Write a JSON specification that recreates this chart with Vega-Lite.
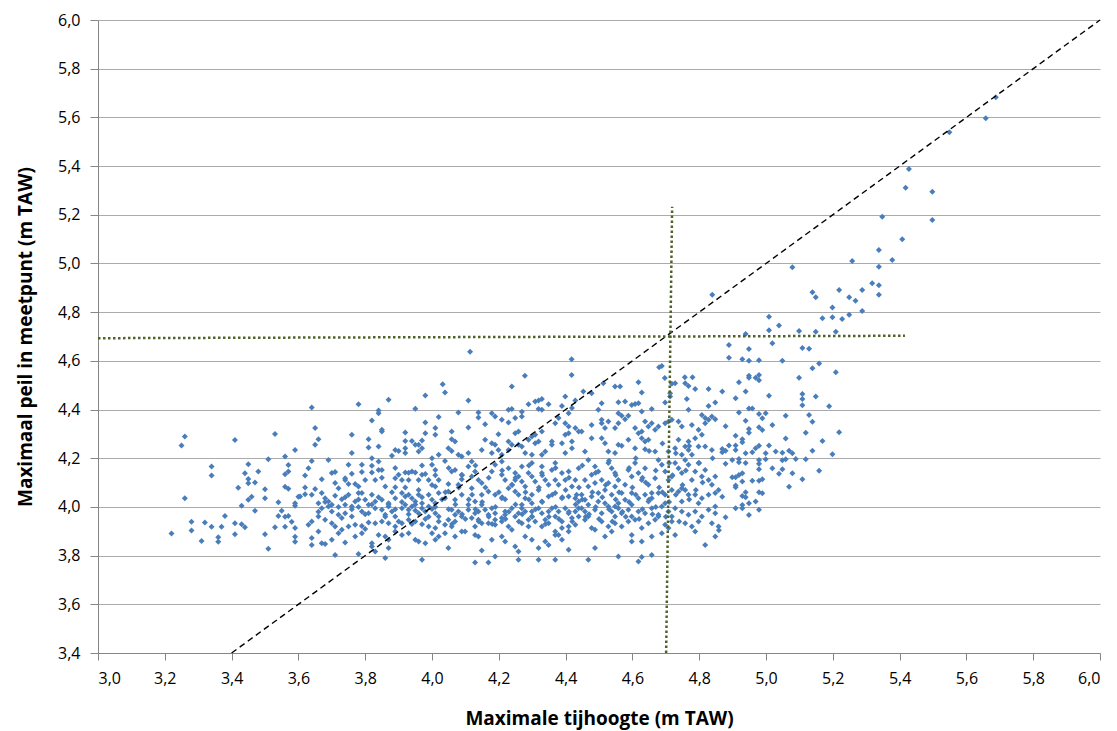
{
"$schema": "https://vega.github.io/schema/vega-lite/v6.json",
"width": 1002, "height": 633,
"autosize": {"type": "none"},
"padding": {"left": 98, "top": 20, "right": 17, "bottom": 78},
"background": "white",
"config": {"view": {"stroke": null}, "font": "Open Sans"},
"datasets": {
"diag": [{"x": 3.4, "y": 3.4}, {"x": 6.0, "y": 6.0}],
"guide": [{"line": "h", "x": 3.0, "y": 4.693}, {"line": "h", "x": 5.416, "y": 4.703}, {"line": "v", "x": 4.701, "y": 3.4}, {"line": "v", "x": 4.719, "y": 5.233}],
"pts": [
{"x":3.260,"y":4.289},{"x":3.250,"y":4.252},{"x":3.410,"y":4.275},{"x":3.530,"y":4.300},{"x":3.590,"y":4.234},{"x":3.560,"y":4.207},{"x":3.570,"y":4.172},{"x":3.560,"y":4.134},{"x":3.570,"y":4.145},{"x":3.510,"y":4.196},{"x":3.450,"y":4.175},{"x":3.440,"y":4.138},{"x":3.450,"y":4.115},{"x":3.450,"y":4.097},{"x":3.480,"y":4.145},{"x":3.340,"y":4.166},{"x":3.340,"y":4.129},{"x":3.420,"y":4.079},{"x":3.470,"y":4.100},{"x":3.500,"y":4.073},{"x":3.500,"y":4.036},{"x":3.560,"y":4.083},{"x":3.570,"y":4.075},{"x":3.460,"y":4.042},{"x":3.450,"y":4.029},{"x":3.260,"y":4.036},{"x":3.430,"y":4.005},{"x":3.540,"y":4.019},{"x":3.600,"y":4.042},{"x":3.590,"y":4.015},{"x":3.590,"y":4.005},{"x":3.380,"y":3.963},{"x":3.470,"y":3.984},{"x":3.280,"y":3.939},{"x":3.280,"y":3.903},{"x":3.320,"y":3.936},{"x":3.340,"y":3.919},{"x":3.370,"y":3.919},{"x":3.410,"y":3.933},{"x":3.430,"y":3.929},{"x":3.440,"y":3.917},{"x":3.550,"y":3.984},{"x":3.540,"y":3.963},{"x":3.560,"y":3.960},{"x":3.570,"y":3.963},{"x":3.580,"y":3.939},{"x":3.590,"y":3.913},{"x":3.560,"y":3.919},{"x":3.530,"y":3.917},{"x":3.220,"y":3.891},{"x":3.310,"y":3.860},{"x":3.360,"y":3.875},{"x":3.360,"y":3.857},{"x":3.410,"y":3.888},{"x":3.500,"y":3.888},{"x":3.510,"y":3.828},{"x":3.590,"y":3.878},{"x":3.590,"y":3.857},
{"x":3.640,"y":4.408},{"x":3.780,"y":4.422},{"x":3.870,"y":4.440},{"x":3.980,"y":4.458},{"x":3.950,"y":4.403},{"x":3.840,"y":4.396},{"x":3.840,"y":4.385},{"x":3.650,"y":4.324},{"x":3.660,"y":4.278},{"x":3.650,"y":4.255},{"x":3.820,"y":4.355},{"x":3.850,"y":4.317},{"x":3.850,"y":4.310},{"x":3.760,"y":4.296},{"x":3.810,"y":4.278},{"x":3.810,"y":4.244},{"x":3.840,"y":4.248},{"x":3.760,"y":4.221},{"x":3.920,"y":4.306},{"x":3.920,"y":4.271},{"x":3.920,"y":4.241},{"x":3.920,"y":4.221},{"x":3.940,"y":4.271},{"x":3.950,"y":4.255},{"x":3.960,"y":4.255},{"x":3.970,"y":4.273},{"x":3.980,"y":4.303},{"x":3.980,"y":4.347},{"x":4.010,"y":4.324},{"x":4.010,"y":4.296},{"x":4.020,"y":4.369},{"x":3.960,"y":4.228},{"x":3.970,"y":4.241},{"x":3.880,"y":4.210},{"x":3.890,"y":4.234},{"x":3.900,"y":4.230},{"x":3.820,"y":4.200},{"x":4.000,"y":4.200},{"x":4.020,"y":4.214},{"x":3.690,"y":4.193},{"x":3.630,"y":4.159},{"x":3.620,"y":4.129},{"x":3.640,"y":4.189},{"x":3.670,"y":4.114},{"x":3.620,"y":4.080},{"x":3.650,"y":4.074},{"x":3.620,"y":4.052},{"x":3.640,"y":4.050},{"x":3.700,"y":4.139},{"x":3.710,"y":4.143},{"x":3.710,"y":4.098},{"x":3.720,"y":4.077},{"x":3.740,"y":4.118},{"x":3.750,"y":4.173},{"x":3.760,"y":4.136},{"x":3.740,"y":4.111},{"x":3.750,"y":4.094},{"x":3.770,"y":4.094},{"x":3.780,"y":4.084},{"x":3.780,"y":4.057},{"x":3.790,"y":4.173},{"x":3.790,"y":4.143},{"x":3.800,"y":4.111},{"x":3.820,"y":4.169},{"x":3.820,"y":4.141},{"x":3.830,"y":4.111},{"x":3.840,"y":4.187},{"x":3.840,"y":4.152},{"x":3.850,"y":4.152},{"x":3.860,"y":4.084},{"x":3.890,"y":4.118},{"x":3.890,"y":4.081},{"x":3.900,"y":4.132},{"x":3.910,"y":4.111},{"x":3.920,"y":4.141},{"x":3.930,"y":4.111},{"x":3.940,"y":4.146},{"x":3.950,"y":4.141},{"x":3.960,"y":4.111},{"x":3.970,"y":4.132},{"x":3.980,"y":4.135},{"x":3.990,"y":4.111},{"x":4.000,"y":4.173},{"x":4.010,"y":4.152},{"x":4.010,"y":4.084},{"x":4.020,"y":4.111},{"x":4.020,"y":4.057},{"x":3.910,"y":4.057},{"x":3.920,"y":4.043},{"x":3.930,"y":4.050},{"x":3.940,"y":4.036},{"x":3.950,"y":4.022},{"x":3.960,"y":4.050},{"x":3.970,"y":4.015},{"x":3.990,"y":4.050},{"x":4.000,"y":4.029},{"x":4.010,"y":4.015},{"x":3.670,"y":4.057},{"x":3.680,"y":4.036},{"x":3.690,"y":4.022},{"x":3.710,"y":4.046},{"x":3.730,"y":4.032},{"x":3.750,"y":4.050},{"x":3.770,"y":4.022},{"x":3.790,"y":4.057},{"x":3.800,"y":4.029},{"x":3.820,"y":4.050},{"x":3.830,"y":4.022},{"x":3.850,"y":4.029},{"x":3.870,"y":4.015},{"x":3.890,"y":4.036},{"x":3.760,"y":4.002},{"x":3.780,"y":4.000},{"x":3.810,"y":4.009},{"x":3.740,"y":4.009},{"x":3.700,"y":4.009},{"x":3.660,"y":4.015},{"x":3.605,"y":4.043},{"x":3.670,"y":3.995},{"x":3.690,"y":4.002},{"x":3.700,"y":3.981},{"x":3.720,"y":3.968},{"x":3.730,"y":3.954},{"x":3.740,"y":3.974},{"x":3.760,"y":3.961},{"x":3.790,"y":3.981},{"x":3.810,"y":3.974},{"x":3.830,"y":3.995},{"x":3.850,"y":3.988},{"x":3.860,"y":3.968},{"x":3.870,"y":4.002},{"x":3.880,"y":3.981},{"x":3.890,"y":3.961},{"x":3.910,"y":3.995},{"x":3.920,"y":4.009},{"x":3.930,"y":3.988},{"x":3.940,"y":4.002},{"x":3.950,"y":3.985},{"x":3.960,"y":3.974},{"x":3.970,"y":3.995},{"x":3.980,"y":3.981},{"x":3.990,"y":4.002},{"x":4.000,"y":3.991},{"x":4.010,"y":3.974},{"x":4.020,"y":3.961},{"x":3.630,"y":3.927},{"x":3.640,"y":3.940},{"x":3.660,"y":3.961},{"x":3.680,"y":3.947},{"x":3.700,"y":3.933},{"x":3.710,"y":3.920},{"x":3.750,"y":3.920},{"x":3.730,"y":3.906},{"x":3.770,"y":3.927},{"x":3.790,"y":3.922},{"x":3.810,"y":3.936},{"x":3.830,"y":3.933},{"x":3.850,"y":3.940},{"x":3.870,"y":3.933},{"x":3.890,"y":3.920},{"x":3.910,"y":3.933},{"x":3.930,"y":3.947},{"x":3.950,"y":3.940},{"x":3.970,"y":3.929},{"x":3.990,"y":3.920},{"x":4.010,"y":3.913},{"x":3.640,"y":3.872},{"x":3.660,"y":3.899},{"x":3.670,"y":3.851},{"x":3.680,"y":3.848},{"x":3.700,"y":3.865},{"x":3.720,"y":3.892},{"x":3.740,"y":3.854},{"x":3.770,"y":3.879},{"x":3.790,"y":3.892},{"x":3.800,"y":3.909},{"x":3.820,"y":3.851},{"x":3.820,"y":3.837},{"x":3.840,"y":3.885},{"x":3.860,"y":3.879},{"x":3.870,"y":3.865},{"x":3.890,"y":3.899},{"x":3.910,"y":3.885},{"x":3.930,"y":3.892},{"x":3.950,"y":3.865},{"x":3.960,"y":3.858},{"x":3.980,"y":3.851},{"x":4.000,"y":3.892},{"x":4.020,"y":3.879},{"x":3.640,"y":3.844},{"x":3.710,"y":3.803},{"x":3.780,"y":3.807},{"x":3.830,"y":3.817},{"x":3.870,"y":3.831},{"x":3.970,"y":3.783},{"x":3.860,"y":3.790},{"x":4.010,"y":3.865},
{"x":4.239,"y":4.495},{"x":4.039,"y":4.470},{"x":4.109,"y":4.437},{"x":4.079,"y":4.388},{"x":4.139,"y":4.388},{"x":4.179,"y":4.385},{"x":4.189,"y":4.371},{"x":4.229,"y":4.399},{"x":4.239,"y":4.402},{"x":4.269,"y":4.391},{"x":4.289,"y":4.422},{"x":4.309,"y":4.433},{"x":4.319,"y":4.437},{"x":4.329,"y":4.443},{"x":4.349,"y":4.422},{"x":4.319,"y":4.402},{"x":4.329,"y":4.399},{"x":4.399,"y":4.454},{"x":4.389,"y":4.415},{"x":4.429,"y":4.437},{"x":4.139,"y":4.367},{"x":4.159,"y":4.340},{"x":4.209,"y":4.358},{"x":4.229,"y":4.347},{"x":4.249,"y":4.365},{"x":4.269,"y":4.371},{"x":4.109,"y":4.326},{"x":4.059,"y":4.310},{"x":4.059,"y":4.278},{"x":4.069,"y":4.269},{"x":4.049,"y":4.241},{"x":4.059,"y":4.230},{"x":4.079,"y":4.214},{"x":4.089,"y":4.207},{"x":4.159,"y":4.276},{"x":4.199,"y":4.299},{"x":4.179,"y":4.262},{"x":4.189,"y":4.255},{"x":4.229,"y":4.269},{"x":4.239,"y":4.255},{"x":4.249,"y":4.303},{"x":4.259,"y":4.310},{"x":4.259,"y":4.255},{"x":4.269,"y":4.248},{"x":4.279,"y":4.221},{"x":4.289,"y":4.276},{"x":4.299,"y":4.289},{"x":4.309,"y":4.296},{"x":4.309,"y":4.262},{"x":4.319,"y":4.269},{"x":4.329,"y":4.310},{"x":4.339,"y":4.228},{"x":4.359,"y":4.269},{"x":4.359,"y":4.255},{"x":4.369,"y":4.344},{"x":4.379,"y":4.365},{"x":4.399,"y":4.344},{"x":4.409,"y":4.330},{"x":4.409,"y":4.303},{"x":4.399,"y":4.296},{"x":4.419,"y":4.269},{"x":4.429,"y":4.324},{"x":4.439,"y":4.310},{"x":4.389,"y":4.262},{"x":4.399,"y":4.221},{"x":4.419,"y":4.241},{"x":4.329,"y":4.214},{"x":4.299,"y":4.214},{"x":4.229,"y":4.234},{"x":4.209,"y":4.214},{"x":4.199,"y":4.234},{"x":4.179,"y":4.221},{"x":4.149,"y":4.234},{"x":4.109,"y":4.221},{"x":4.409,"y":4.385},{"x":4.419,"y":4.406},{"x":4.039,"y":4.189},{"x":4.069,"y":4.152},{"x":4.059,"y":4.146},{"x":4.089,"y":4.132},{"x":4.089,"y":4.114},{"x":4.119,"y":4.187},{"x":4.109,"y":4.166},{"x":4.079,"y":4.091},{"x":4.089,"y":4.050},{"x":4.049,"y":4.094},{"x":4.049,"y":4.063},{"x":4.039,"y":4.036},{"x":4.069,"y":4.029},{"x":4.119,"y":4.125},{"x":4.129,"y":4.146},{"x":4.119,"y":4.077},{"x":4.139,"y":4.111},{"x":4.149,"y":4.098},{"x":4.169,"y":4.063},{"x":4.149,"y":4.050},{"x":4.129,"y":4.022},{"x":4.179,"y":4.146},{"x":4.189,"y":4.173},{"x":4.209,"y":4.187},{"x":4.209,"y":4.132},{"x":4.219,"y":4.111},{"x":4.229,"y":4.159},{"x":4.249,"y":4.139},{"x":4.249,"y":4.111},{"x":4.239,"y":4.091},{"x":4.229,"y":4.077},{"x":4.259,"y":4.125},{"x":4.269,"y":4.166},{"x":4.269,"y":4.104},{"x":4.279,"y":4.084},{"x":4.289,"y":4.139},{"x":4.299,"y":4.180},{"x":4.299,"y":4.125},{"x":4.309,"y":4.104},{"x":4.319,"y":4.070},{"x":4.329,"y":4.166},{"x":4.329,"y":4.139},{"x":4.339,"y":4.111},{"x":4.349,"y":4.091},{"x":4.359,"y":4.152},{"x":4.369,"y":4.180},{"x":4.369,"y":4.111},{"x":4.379,"y":4.091},{"x":4.389,"y":4.139},{"x":4.399,"y":4.111},{"x":4.409,"y":4.146},{"x":4.419,"y":4.084},{"x":4.429,"y":4.111},{"x":4.439,"y":4.159},{"x":4.189,"y":4.050},{"x":4.209,"y":4.036},{"x":4.219,"y":4.032},{"x":4.249,"y":4.063},{"x":4.259,"y":4.050},{"x":4.279,"y":4.036},{"x":4.299,"y":4.050},{"x":4.329,"y":4.022},{"x":4.349,"y":4.043},{"x":4.369,"y":4.057},{"x":4.389,"y":4.036},{"x":4.409,"y":4.043},{"x":4.429,"y":4.036},{"x":4.433,"y":4.050},{"x":4.439,"y":4.022},{"x":4.299,"y":4.015},{"x":4.269,"y":4.009},{"x":4.109,"y":4.009},{"x":4.149,"y":4.009},
{"x":4.059,"y":3.988},{"x":4.069,"y":3.968},{"x":4.079,"y":3.981},{"x":4.049,"y":3.947},{"x":4.039,"y":3.927},{"x":4.069,"y":3.940},{"x":4.089,"y":3.961},{"x":4.109,"y":3.988},{"x":4.119,"y":3.954},{"x":4.129,"y":3.974},{"x":4.139,"y":3.981},{"x":4.139,"y":3.947},{"x":4.159,"y":3.988},{"x":4.169,"y":3.968},{"x":4.179,"y":3.995},{"x":4.189,"y":3.974},{"x":4.189,"y":3.947},{"x":4.209,"y":3.954},{"x":4.219,"y":3.981},{"x":4.219,"y":3.968},{"x":4.239,"y":3.995},{"x":4.249,"y":3.961},{"x":4.259,"y":3.974},{"x":4.269,"y":3.995},{"x":4.279,"y":3.981},{"x":4.289,"y":3.947},{"x":4.299,"y":3.981},{"x":4.299,"y":3.961},{"x":4.319,"y":3.995},{"x":4.329,"y":3.974},{"x":4.339,"y":3.947},{"x":4.349,"y":3.981},{"x":4.359,"y":3.995},{"x":4.369,"y":3.961},{"x":4.379,"y":3.981},{"x":4.389,"y":3.940},{"x":4.399,"y":3.995},{"x":4.409,"y":3.974},{"x":4.419,"y":3.954},{"x":4.429,"y":3.981},{"x":4.439,"y":3.995},{"x":4.439,"y":3.961},{"x":4.059,"y":3.920},{"x":4.089,"y":3.899},{"x":4.099,"y":3.899},{"x":4.129,"y":3.920},{"x":4.149,"y":3.933},{"x":4.169,"y":3.933},{"x":4.189,"y":3.927},{"x":4.209,"y":3.940},{"x":4.229,"y":3.920},{"x":4.239,"y":3.906},{"x":4.269,"y":3.933},{"x":4.289,"y":3.920},{"x":4.309,"y":3.940},{"x":4.329,"y":3.920},{"x":4.349,"y":3.933},{"x":4.369,"y":3.899},{"x":4.389,"y":3.913},{"x":4.409,"y":3.920},{"x":4.429,"y":3.927},{"x":4.039,"y":3.892},{"x":4.049,"y":3.831},{"x":4.069,"y":3.879},{"x":4.129,"y":3.885},{"x":4.139,"y":3.879},{"x":4.179,"y":3.865},{"x":4.209,"y":3.879},{"x":4.219,"y":3.858},{"x":4.249,"y":3.837},{"x":4.259,"y":3.817},{"x":4.279,"y":3.879},{"x":4.299,"y":3.865},{"x":4.319,"y":3.831},{"x":4.339,"y":3.858},{"x":4.349,"y":3.844},{"x":4.369,"y":3.885},{"x":4.389,"y":3.865},{"x":4.409,"y":3.824},{"x":4.379,"y":3.885},{"x":4.129,"y":3.772},{"x":4.169,"y":3.772},{"x":4.189,"y":3.796},{"x":4.149,"y":3.821},{"x":4.259,"y":3.783},{"x":4.319,"y":3.783},{"x":4.369,"y":3.783},{"x":4.409,"y":3.899},
{"x":4.513,"y":4.508},{"x":4.478,"y":4.467},{"x":4.453,"y":4.474},{"x":4.548,"y":4.495},{"x":4.563,"y":4.495},{"x":4.618,"y":4.512},{"x":4.628,"y":4.470},{"x":4.718,"y":4.506},{"x":4.728,"y":4.508},{"x":4.758,"y":4.508},{"x":4.768,"y":4.497},{"x":4.788,"y":4.484},{"x":4.828,"y":4.484},{"x":4.848,"y":4.429},{"x":4.828,"y":4.415},{"x":4.763,"y":4.443},{"x":4.508,"y":4.426},{"x":4.558,"y":4.430},{"x":4.578,"y":4.433},{"x":4.598,"y":4.419},{"x":4.608,"y":4.423},{"x":4.618,"y":4.426},{"x":4.628,"y":4.392},{"x":4.658,"y":4.402},{"x":4.698,"y":4.429},{"x":4.713,"y":4.454},{"x":4.713,"y":4.467},{"x":4.498,"y":4.399},{"x":4.508,"y":4.358},{"x":4.508,"y":4.344},{"x":4.528,"y":4.351},{"x":4.548,"y":4.324},{"x":4.558,"y":4.385},{"x":4.568,"y":4.374},{"x":4.578,"y":4.360},{"x":4.588,"y":4.374},{"x":4.558,"y":4.344},{"x":4.518,"y":4.324},{"x":4.478,"y":4.337},{"x":4.448,"y":4.310},{"x":4.478,"y":4.282},{"x":4.508,"y":4.282},{"x":4.518,"y":4.262},{"x":4.588,"y":4.276},{"x":4.608,"y":4.324},{"x":4.618,"y":4.303},{"x":4.628,"y":4.310},{"x":4.638,"y":4.351},{"x":4.648,"y":4.330},{"x":4.658,"y":4.344},{"x":4.668,"y":4.317},{"x":4.678,"y":4.330},{"x":4.628,"y":4.282},{"x":4.638,"y":4.269},{"x":4.648,"y":4.276},{"x":4.698,"y":4.344},{"x":4.708,"y":4.351},{"x":4.718,"y":4.358},{"x":4.738,"y":4.351},{"x":4.748,"y":4.330},{"x":4.768,"y":4.399},{"x":4.778,"y":4.337},{"x":4.808,"y":4.378},{"x":4.818,"y":4.365},{"x":4.818,"y":4.344},{"x":4.828,"y":4.358},{"x":4.838,"y":4.371},{"x":4.848,"y":4.360},{"x":4.798,"y":4.317},{"x":4.808,"y":4.296},{"x":4.788,"y":4.282},{"x":4.768,"y":4.269},{"x":4.738,"y":4.276},{"x":4.798,"y":4.248},{"x":4.768,"y":4.234},{"x":4.818,"y":4.248},{"x":4.838,"y":4.234},{"x":4.458,"y":4.228},{"x":4.528,"y":4.228},{"x":4.548,"y":4.221},{"x":4.608,"y":4.241},{"x":4.638,"y":4.237},{"x":4.668,"y":4.228},{"x":4.708,"y":4.228},{"x":4.728,"y":4.241},{"x":4.748,"y":4.214},{"x":4.778,"y":4.214},{"x":4.758,"y":4.248},{"x":4.558,"y":4.255},{"x":4.568,"y":4.251},
{"x":4.468,"y":4.193},{"x":4.488,"y":4.166},{"x":4.498,"y":4.146},{"x":4.478,"y":4.132},{"x":4.458,"y":4.111},{"x":4.468,"y":4.084},{"x":4.488,"y":4.098},{"x":4.498,"y":4.057},{"x":4.448,"y":4.050},{"x":4.458,"y":4.029},{"x":4.478,"y":4.043},{"x":4.508,"y":4.111},{"x":4.518,"y":4.070},{"x":4.528,"y":4.180},{"x":4.538,"y":4.159},{"x":4.548,"y":4.139},{"x":4.528,"y":4.098},{"x":4.548,"y":4.084},{"x":4.558,"y":4.111},{"x":4.568,"y":4.057},{"x":4.578,"y":4.091},{"x":4.588,"y":4.152},{"x":4.598,"y":4.125},{"x":4.608,"y":4.180},{"x":4.618,"y":4.139},{"x":4.628,"y":4.111},{"x":4.638,"y":4.159},{"x":4.648,"y":4.091},{"x":4.658,"y":4.057},{"x":4.668,"y":4.118},{"x":4.678,"y":4.193},{"x":4.688,"y":4.173},{"x":4.698,"y":4.146},{"x":4.708,"y":4.111},{"x":4.718,"y":4.125},{"x":4.728,"y":4.180},{"x":4.738,"y":4.159},{"x":4.748,"y":4.139},{"x":4.758,"y":4.193},{"x":4.768,"y":4.173},{"x":4.778,"y":4.111},{"x":4.788,"y":4.146},{"x":4.798,"y":4.180},{"x":4.808,"y":4.125},{"x":4.818,"y":4.152},{"x":4.828,"y":4.111},{"x":4.838,"y":4.091},{"x":4.848,"y":4.125},{"x":4.858,"y":4.070},{"x":4.848,"y":4.057},{"x":4.828,"y":4.050},{"x":4.808,"y":4.036},{"x":4.788,"y":4.050},{"x":4.768,"y":4.050},{"x":4.758,"y":4.070},{"x":4.748,"y":4.077},{"x":4.738,"y":4.063},{"x":4.718,"y":4.070},{"x":4.698,"y":4.050},{"x":4.678,"y":4.057},{"x":4.658,"y":4.036},{"x":4.638,"y":4.050},{"x":4.618,"y":4.036},{"x":4.598,"y":4.057},{"x":4.578,"y":4.029},{"x":4.558,"y":4.015},{"x":4.538,"y":4.050},{"x":4.518,"y":4.015},{"x":4.498,"y":4.022},{"x":4.468,"y":4.009},{"x":4.548,"y":4.002},{"x":4.598,"y":4.009},{"x":4.648,"y":4.022},{"x":4.698,"y":4.015},{"x":4.748,"y":4.022},{"x":4.798,"y":4.015},{"x":4.848,"y":4.002},
{"x":4.448,"y":3.995},{"x":4.458,"y":3.981},{"x":4.468,"y":3.961},{"x":4.488,"y":3.988},{"x":4.508,"y":3.974},{"x":4.528,"y":4.002},{"x":4.538,"y":3.981},{"x":4.548,"y":3.961},{"x":4.558,"y":3.995},{"x":4.568,"y":3.974},{"x":4.588,"y":3.988},{"x":4.598,"y":3.961},{"x":4.618,"y":3.981},{"x":4.638,"y":3.974},{"x":4.658,"y":3.995},{"x":4.678,"y":3.961},{"x":4.688,"y":4.002},{"x":4.708,"y":3.981},{"x":4.718,"y":3.961},{"x":4.728,"y":3.995},{"x":4.748,"y":3.981},{"x":4.768,"y":3.968},{"x":4.788,"y":3.981},{"x":4.808,"y":3.961},{"x":4.828,"y":3.988},{"x":4.848,"y":3.974},{"x":4.458,"y":3.947},{"x":4.478,"y":3.913},{"x":4.488,"y":3.906},{"x":4.508,"y":3.940},{"x":4.528,"y":3.920},{"x":4.548,"y":3.933},{"x":4.568,"y":3.920},{"x":4.588,"y":3.940},{"x":4.608,"y":3.947},{"x":4.628,"y":3.913},{"x":4.648,"y":3.933},{"x":4.668,"y":3.947},{"x":4.688,"y":3.892},{"x":4.718,"y":3.940},{"x":4.728,"y":3.885},{"x":4.758,"y":3.933},{"x":4.778,"y":3.920},{"x":4.798,"y":3.940},{"x":4.838,"y":3.933},{"x":4.858,"y":3.920},{"x":4.518,"y":3.879},{"x":4.538,"y":3.899},{"x":4.598,"y":3.885},{"x":4.628,"y":3.858},{"x":4.658,"y":3.879},{"x":4.678,"y":3.968},{"x":4.698,"y":3.927},{"x":4.788,"y":3.899},{"x":4.818,"y":3.844},{"x":4.848,"y":3.879},{"x":4.488,"y":3.831},{"x":4.558,"y":3.796},{"x":4.628,"y":3.794},{"x":4.618,"y":3.776},{"x":4.658,"y":3.803},{"x":4.468,"y":3.783},{"x":4.598,"y":3.858},{"x":4.708,"y":3.913},
{"x":4.114,"y":4.637},{"x":4.418,"y":4.607},{"x":4.418,"y":4.542},{"x":4.278,"y":4.539},{"x":4.032,"y":4.504},{"x":4.680,"y":4.574},{"x":4.688,"y":4.579},{"x":4.697,"y":4.530},{"x":4.757,"y":4.533},{"x":4.780,"y":4.533},
{"x":5.039,"y":4.745},{"x":5.009,"y":4.726},{"x":4.939,"y":4.710},{"x":5.099,"y":4.723},{"x":5.149,"y":4.720},{"x":5.209,"y":4.720},{"x":5.019,"y":4.672},{"x":4.889,"y":4.665},{"x":5.109,"y":4.653},{"x":5.129,"y":4.650},{"x":4.949,"y":4.649},{"x":4.889,"y":4.613},{"x":4.929,"y":4.607},{"x":4.949,"y":4.600},{"x":4.979,"y":4.602},{"x":5.049,"y":4.600},{"x":5.159,"y":4.589},{"x":5.139,"y":4.570},{"x":5.209,"y":4.553},{"x":4.949,"y":4.539},{"x":4.949,"y":4.531},{"x":4.979,"y":4.542},{"x":4.969,"y":4.531},{"x":4.979,"y":4.520},{"x":5.099,"y":4.531},{"x":4.919,"y":4.512},{"x":4.939,"y":4.474},{"x":4.869,"y":4.474},{"x":5.009,"y":4.457},{"x":5.109,"y":4.464},{"x":5.109,"y":4.443},{"x":5.109,"y":4.418},{"x":5.149,"y":4.454},{"x":4.909,"y":4.446},{"x":5.189,"y":4.414},{"x":4.949,"y":4.404},{"x":4.959,"y":4.404},{"x":4.919,"y":4.388},{"x":5.059,"y":4.375},{"x":5.129,"y":4.378},{"x":4.979,"y":4.382},{"x":4.999,"y":4.385},{"x":4.989,"y":4.364},{"x":5.139,"y":4.350},{"x":4.939,"y":4.354},{"x":5.019,"y":4.337},{"x":4.879,"y":4.331},{"x":4.949,"y":4.320},{"x":4.949,"y":4.305},{"x":4.979,"y":4.327},{"x":4.989,"y":4.316},{"x":5.219,"y":4.307},{"x":5.119,"y":4.305},{"x":4.909,"y":4.292},{"x":5.059,"y":4.281},{"x":4.929,"y":4.278},{"x":4.929,"y":4.266},{"x":5.169,"y":4.271},{"x":4.889,"y":4.252},{"x":4.869,"y":4.238},{"x":4.879,"y":4.231},{"x":4.869,"y":4.225},{"x":4.909,"y":4.252},{"x":4.909,"y":4.234},{"x":4.979,"y":4.251},{"x":4.969,"y":4.241},{"x":4.959,"y":4.225},{"x":5.009,"y":4.252},{"x":5.029,"y":4.228},{"x":5.069,"y":4.231},{"x":5.079,"y":4.220},{"x":5.049,"y":4.223},{"x":5.139,"y":4.231},{"x":5.199,"y":4.216},{"x":4.999,"y":4.220},{"x":4.939,"y":4.220},{"x":4.899,"y":4.193},{"x":4.919,"y":4.197},{"x":4.919,"y":4.184},{"x":4.939,"y":4.180},{"x":4.979,"y":4.193},{"x":4.979,"y":4.177},{"x":4.979,"y":4.155},{"x":4.999,"y":4.196},{"x":5.049,"y":4.192},{"x":5.059,"y":4.196},{"x":5.089,"y":4.197},{"x":5.119,"y":4.196},{"x":5.159,"y":4.149},{"x":4.879,"y":4.177},{"x":5.019,"y":4.159},{"x":5.049,"y":4.155},{"x":5.039,"y":4.136},{"x":5.079,"y":4.138},{"x":5.109,"y":4.114},{"x":5.069,"y":4.083},{"x":4.989,"y":4.114},{"x":4.979,"y":4.107},{"x":4.959,"y":4.107},{"x":4.929,"y":4.138},{"x":4.919,"y":4.131},{"x":4.909,"y":4.122},{"x":4.899,"y":4.122},{"x":4.929,"y":4.104},{"x":4.909,"y":4.088},{"x":4.909,"y":4.081},{"x":4.939,"y":4.060},{"x":4.929,"y":4.045},{"x":4.939,"y":4.040},{"x":4.949,"y":4.015},{"x":4.929,"y":4.008},{"x":4.929,"y":3.995},{"x":4.909,"y":3.995},{"x":4.879,"y":3.958},{"x":4.969,"y":4.022},{"x":4.989,"y":4.056},{"x":4.979,"y":4.060},{"x":4.979,"y":3.988},{"x":4.949,"y":3.967},{"x":4.869,"y":4.042},{"x":4.859,"y":3.904},
{"x":5.688,"y":5.683},{"x":5.658,"y":5.596},{"x":5.549,"y":5.539},{"x":5.428,"y":5.388},{"x":5.418,"y":5.311},{"x":5.498,"y":5.295},{"x":5.498,"y":5.179},{"x":5.348,"y":5.192},{"x":5.408,"y":5.099},{"x":5.338,"y":5.055},{"x":5.378,"y":5.014},{"x":5.258,"y":5.010},{"x":5.079,"y":4.984},{"x":5.338,"y":4.987},{"x":4.839,"y":4.871},{"x":5.139,"y":4.882},{"x":5.149,"y":4.861},{"x":5.219,"y":4.891},{"x":5.249,"y":4.861},{"x":5.268,"y":4.847},{"x":5.288,"y":4.891},{"x":5.318,"y":4.919},{"x":5.338,"y":4.910},{"x":5.338,"y":4.871},{"x":5.199,"y":4.819},{"x":5.288,"y":4.805},{"x":5.249,"y":4.789},{"x":5.169,"y":4.775},{"x":5.199,"y":4.779},{"x":5.228,"y":4.772},{"x":5.009,"y":4.781},
{"x":3.87,"y":4.01},{"x":3.89,"y":3.99},{"x":3.91,"y":4.02},{"x":3.93,"y":3.97},{"x":3.95,"y":4.01},{"x":3.97,"y":4.04},{"x":3.99,"y":3.96},{"x":4.01,"y":4.00},{"x":4.03,"y":4.03},{"x":4.05,"y":3.99},{"x":4.07,"y":4.01},{"x":4.09,"y":3.97},{"x":4.11,"y":4.03},{"x":4.13,"y":3.99},{"x":4.15,"y":4.02},{"x":4.17,"y":3.96},{"x":4.19,"y":4.00},{"x":4.21,"y":4.04},{"x":4.23,"y":3.98},{"x":4.25,"y":4.01},{"x":4.27,"y":3.97},{"x":4.29,"y":4.03},{"x":4.31,"y":3.99},{"x":4.33,"y":4.02},{"x":4.35,"y":3.96},{"x":4.37,"y":4.00},{"x":4.39,"y":4.04},{"x":4.41,"y":3.98},{"x":4.43,"y":4.01},{"x":4.45,"y":4.03},{"x":4.47,"y":3.97},{"x":4.49,"y":4.00},{"x":4.51,"y":4.04},{"x":4.53,"y":3.99},{"x":4.55,"y":4.03},{"x":4.57,"y":3.98},{"x":4.59,"y":4.02},{"x":4.61,"y":4.05},{"x":4.63,"y":3.99},{"x":4.65,"y":4.03},{"x":4.67,"y":4.00},{"x":4.69,"y":4.06},{"x":4.71,"y":4.02},{"x":4.73,"y":4.05},{"x":4.75,"y":4.09},{"x":4.77,"y":4.03},{"x":4.79,"y":4.07},{"x":4.81,"y":4.10},
{"x":3.88,"y":4.06},{"x":3.92,"y":4.08},{"x":3.96,"y":4.07},{"x":4.00,"y":4.09},{"x":4.04,"y":4.06},{"x":4.08,"y":4.08},{"x":4.12,"y":4.05},{"x":4.16,"y":4.08},{"x":4.20,"y":4.06},{"x":4.24,"y":4.09},{"x":4.28,"y":4.06},{"x":4.32,"y":4.08},{"x":4.36,"y":4.05},{"x":4.40,"y":4.07},{"x":4.44,"y":4.08},{"x":4.48,"y":4.06},{"x":4.52,"y":4.09},{"x":4.56,"y":4.06},{"x":4.60,"y":4.08},{"x":4.64,"y":4.10},{"x":4.68,"y":4.08},{"x":4.72,"y":4.13},{"x":4.76,"y":4.15},{"x":4.80,"y":4.18},{"x":4.84,"y":4.20},
{"x":3.90,"y":3.94},{"x":3.94,"y":3.93},{"x":3.98,"y":3.95},{"x":4.02,"y":3.94},{"x":4.06,"y":3.93},{"x":4.10,"y":3.95},{"x":4.14,"y":3.94},{"x":4.18,"y":3.93},{"x":4.22,"y":3.95},{"x":4.26,"y":3.94},{"x":4.30,"y":3.96},{"x":4.34,"y":3.93},{"x":4.38,"y":3.95},{"x":4.42,"y":3.94},{"x":4.46,"y":3.96},{"x":4.50,"y":3.95},{"x":4.54,"y":3.94},{"x":4.58,"y":3.96},{"x":4.62,"y":3.95},{"x":4.66,"y":3.97},{"x":4.70,"y":3.96},{"x":4.74,"y":3.94},
{"x":3.76,"y":3.99},{"x":3.78,"y":4.03},{"x":3.80,"y":3.97},{"x":3.82,"y":4.01},{"x":3.84,"y":4.04},{"x":3.86,"y":3.96},{"x":3.72,"y":4.00},{"x":3.74,"y":4.04},{"x":3.68,"y":4.02},{"x":3.66,"y":3.98},
{"x":4.55,"y":4.13},{"x":4.59,"y":4.16},{"x":4.63,"y":4.12},{"x":4.67,"y":4.15},{"x":4.71,"y":4.18},{"x":4.73,"y":4.22},{"x":4.77,"y":4.25},{"x":4.61,"y":4.20},{"x":4.65,"y":4.23},{"x":4.69,"y":4.26},{"x":4.53,"y":4.19},{"x":4.49,"y":4.14},{"x":4.45,"y":4.17},{"x":4.41,"y":4.12},{"x":4.37,"y":4.16},{"x":4.33,"y":4.13},{"x":4.29,"y":4.17},{"x":4.25,"y":4.12},{"x":4.21,"y":4.15},{"x":4.17,"y":4.12},{"x":4.13,"y":4.17},{"x":4.09,"y":4.13},{"x":4.05,"y":4.16},{"x":4.01,"y":4.13},{"x":3.97,"y":4.17},{"x":3.93,"y":4.14},{"x":3.89,"y":4.16},{"x":3.85,"y":4.12}
]
},
"layer": [
{
"data": {"name": "pts"},
"mark": {"type": "point", "shape": "diamond", "filled": true, "size": 36, "color": "#4A7EBB", "opacity": 1},
"encoding": {
"x": {"field": "x", "type": "quantitative",
"scale": {"domain": [3, 6], "nice": false, "zero": false},
"axis": {"values": [3.0,3.2,3.4,3.6,3.8,4.0,4.2,4.4,4.6,4.8,5.0,5.2,5.4,5.6,5.8,6.0],
"labelExpr": "replace(format(datum.value, '.1f'), '.', ',')",
"grid": false, "domainColor": "#868686", "tickColor": "#868686", "tickSize": 7,
"labelFont": "Open Sans", "labelFontSize": 16, "labelColor": "#000000", "labelPadding": 10,
"title": "Maximale tijhoogte (m TAW)", "titleFont": "Open Sans", "titleFontSize": 19, "titleFontWeight": "bold", "titleColor": "#000000",
"titleY": 65, "titleBaseline": "middle"}},
"y": {"field": "y", "type": "quantitative",
"scale": {"domain": [3.4, 6], "nice": false, "zero": false},
"axis": {"values": [3.4,3.6,3.8,4.0,4.2,4.4,4.6,4.8,5.0,5.2,5.4,5.6,5.8,6.0],
"labelExpr": "replace(format(datum.value, '.1f'), '.', ',')",
"grid": true, "gridColor": "#ababab", "gridWidth": 1, "domainColor": "#868686", "tickColor": "#868686", "tickSize": 8,
"labelFont": "Open Sans", "labelFontSize": 16, "labelColor": "#000000", "labelPadding": 10,
"title": "Maximaal peil in meetpunt (m TAW)", "titleFont": "Open Sans", "titleFontSize": 19, "titleFontWeight": "bold", "titleColor": "#000000",
"titleX": -73, "titleBaseline": "middle"}}
}
},
{
"data": {"name": "diag"},
"mark": {"type": "line", "color": "#000000", "strokeDash": [6, 4], "strokeWidth": 1.4},
"encoding": {"x": {"field": "x", "type": "quantitative"}, "y": {"field": "y", "type": "quantitative"}}
},
{
"data": {"name": "guide"},
"mark": {"type": "line", "color": "#4F6228", "strokeDash": [2.5, 2.5], "strokeWidth": 2.5},
"encoding": {"x": {"field": "x", "type": "quantitative"}, "y": {"field": "y", "type": "quantitative"}, "detail": {"field": "line", "type": "nominal"}}
}
]
}
